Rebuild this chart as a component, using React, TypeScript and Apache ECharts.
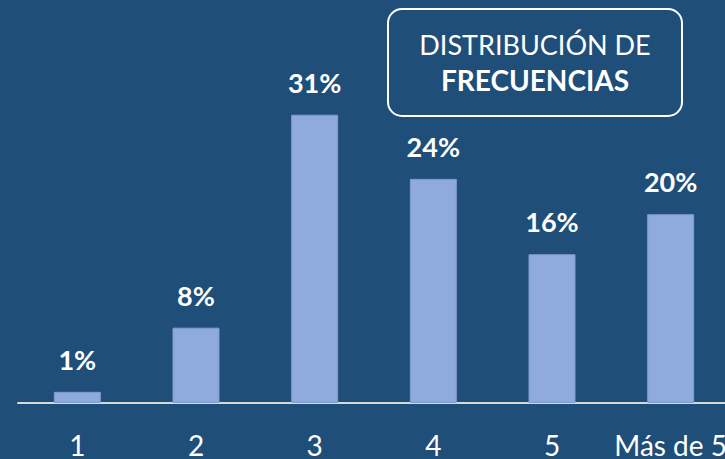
import React, { useEffect, useRef } from "react";
import * as echarts from "echarts";

const categories = ["1", "2", "3", "4", "5", "Más de 5"];
const values = [1.2, 8.1, 31.0, 24.1, 16.0, 20.3];
const titleLine1 = "DISTRIBUCIÓN DE";
const titleLine2 = "FRECUENCIAS";

const FONT = "Lato, 'Open Sans', sans-serif";

export default function App() {
  const ref = useRef<HTMLDivElement>(null);
  useEffect(() => {
    if (!ref.current) return;
    const chart = echarts.init(ref.current, undefined, { renderer: "svg" });
    chart.setOption({
      animation: false,
      backgroundColor: "#1F4E79",
      grid: { left: 18, top: 31, width: 712, height: 374 },
      xAxis: {
        type: "category",
        data: categories,
        axisLine: { lineStyle: { color: "#D9D9D9", width: 2 } },
        axisTick: { show: false },
        axisLabel: {
          color: "#FFFFFF",
          fontSize: 28,
          fontFamily: FONT,
          margin: 28,
          interval: 0,
          hideOverlap: false,
        },
      },
      yAxis: {
        type: "value",
        min: 0,
        max: 40,
        show: false,
        splitLine: { show: false },
      },
      series: [
        {
          type: "bar",
          data: values,
          barWidth: 47,
          itemStyle: { color: "#8FAADC", borderColor: "#7F9CCF", borderWidth: 1 },
          label: {
            show: true,
            position: "top",
            distance: 19,
            color: "#FFFFFF",
            fontWeight: "bold",
            fontSize: 27,
            fontFamily: FONT,
            formatter: (p: any) => Math.round(p.value) + "%",
          },
        },
      ],
      graphic: [
        {
          type: "rect",
          shape: { x: 388, y: 9, width: 294, height: 107, r: 14 },
          style: { fill: "transparent", stroke: "#FFFFFF", lineWidth: 2 },
        },
        {
          type: "text",
          style: {
            x: 535,
            y: 44,
            text: titleLine1,
            fill: "#FFFFFF",
            font: `27px ${FONT}`,
            textAlign: "center",
            textVerticalAlign: "middle",
          },
        },
        {
          type: "text",
          style: {
            x: 535,
            y: 80,
            text: titleLine2,
            fill: "#FFFFFF",
            font: `bold 28px ${FONT}`,
            textAlign: "center",
            textVerticalAlign: "middle",
          },
        },
      ],
    });
    return () => chart.dispose();
  }, []);
  return (
    <div style={{ width: 725, height: 459, position: "fixed", left: 0, top: 0, overflow: "hidden" }}>
      <div ref={ref} style={{ width: 740, height: 459 }} />
    </div>
  );
}
